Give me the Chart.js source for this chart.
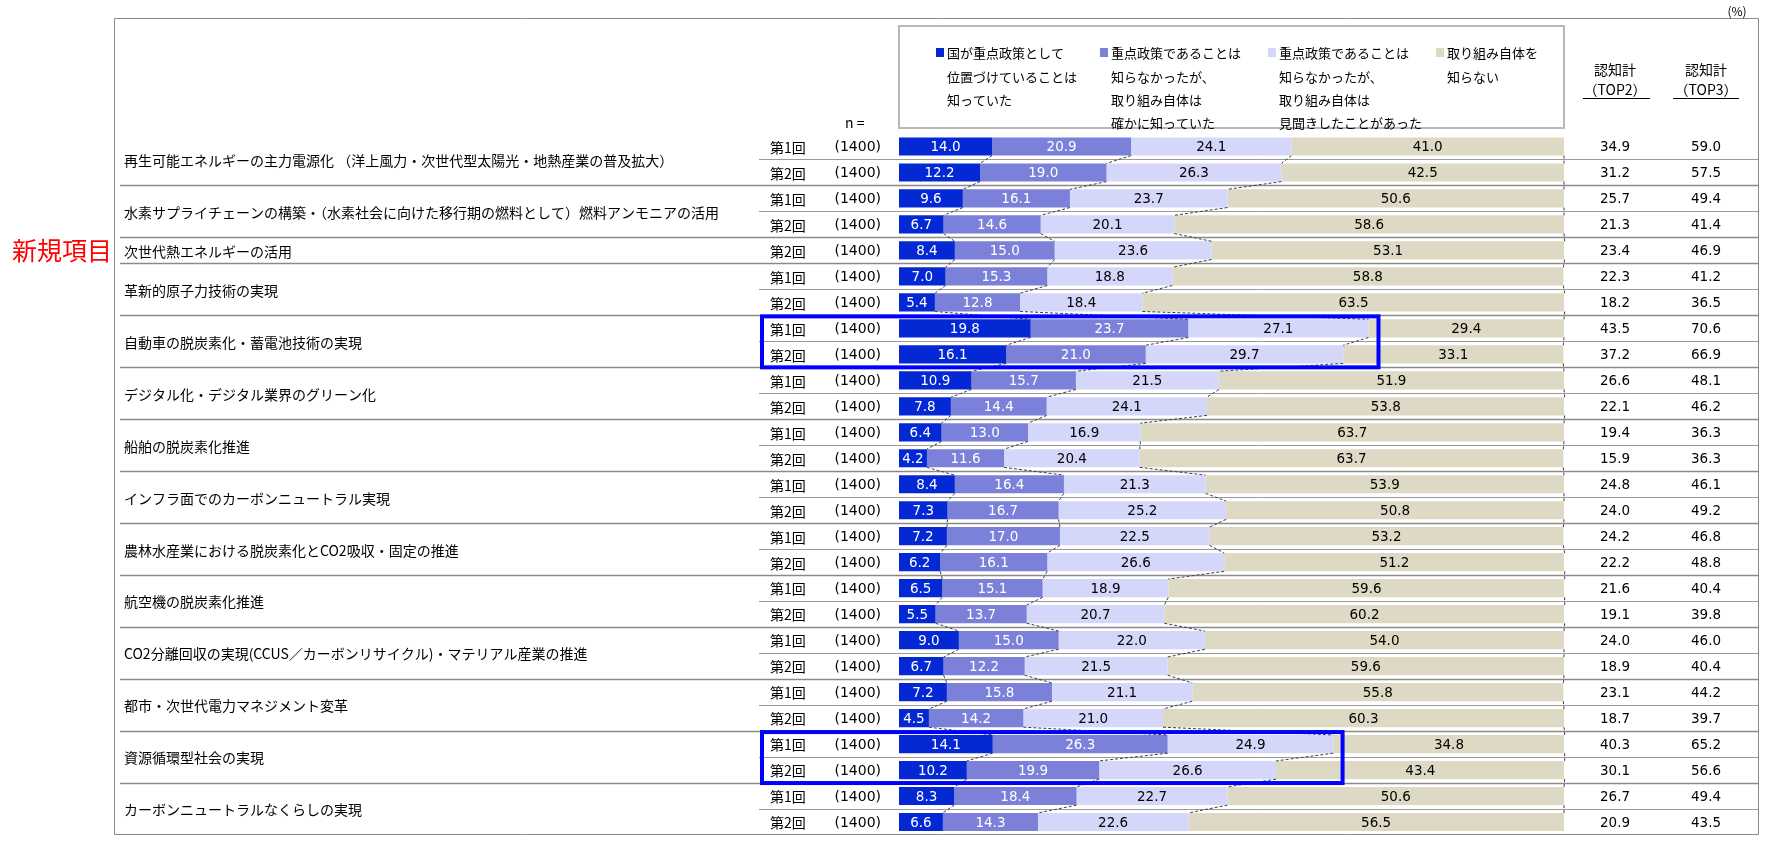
<!DOCTYPE html>
<html lang="ja">
<head>
<meta charset="utf-8">
<title>グリーン成長戦略 重点分野の認知度</title>
<script src="https://cdn.jsdelivr.net/npm/chart.js@4.4.1/dist/chart.umd.min.js"></script>
<style>
  html, body { margin: 0; padding: 0; background: #fff; }
  #chart { display: block; }
</style>
</head>
<body>
<canvas id="chart" width="1768" height="842"></canvas>
<script>
// 施策（グループ）名
const groups = [
    '再生可能エネルギーの主力電源化 （洋上風力・次世代型太陽光・地熱産業の普及拡大）',
    '水素サプライチェーンの構築・（水素社会に向けた移行期の燃料として）燃料アンモニアの活用',
    '次世代熱エネルギーの活用',
    '革新的原子力技術の実現',
    '自動車の脱炭素化・蓄電池技術の実現',
    'デジタル化・デジタル業界のグリーン化',
    '船舶の脱炭素化推進',
    'インフラ面でのカーボンニュートラル実現',
    '農林水産業における脱炭素化とCO2吸収・固定の推進',
    '航空機の脱炭素化推進',
    'CO2分離回収の実現(CCUS／カーボンリサイクル)・マテリアル産業の推進',
    '都市・次世代電力マネジメント変革',
    '資源循環型社会の実現',
    'カーボンニュートラルなくらしの実現'
];

// 各行がどのグループか / 調査回 / n
const rowGroup = [0, 0, 1, 1, 2, 3, 3, 4, 4, 5, 5, 6, 6, 7, 7, 8, 8, 9, 9, 10, 10, 11, 11, 12, 12, 13, 13];
const rowRound = ['第1回', '第2回', '第1回', '第2回', '第2回', '第1回', '第2回', '第1回', '第2回',
    '第1回', '第2回', '第1回', '第2回', '第1回', '第2回', '第1回', '第2回', '第1回', '第2回',
    '第1回', '第2回', '第1回', '第2回', '第1回', '第2回', '第1回', '第2回'];
const rowN = [1400, 1400, 1400, 1400, 1400, 1400, 1400, 1400, 1400, 1400, 1400, 1400, 1400, 1400,
    1400, 1400, 1400, 1400, 1400, 1400, 1400, 1400, 1400, 1400, 1400, 1400, 1400];

// 系列（%）
const knewPriority = [14.0, 12.2, 9.6, 6.7, 8.4, 7.0, 5.4, 19.8, 16.1, 10.9, 7.8, 6.4, 4.2, 8.4, 7.3,
    7.2, 6.2, 6.5, 5.5, 9.0, 6.7, 7.2, 4.5, 14.1, 10.2, 8.3, 6.6];
const knewInitiative = [20.9, 19.0, 16.1, 14.6, 15.0, 15.3, 12.8, 23.7, 21.0, 15.7, 14.4, 13.0, 11.6, 16.4, 16.7,
    17.0, 16.1, 15.1, 13.7, 15.0, 12.2, 15.8, 14.2, 26.3, 19.9, 18.4, 14.3];
const heardOf = [24.1, 26.3, 23.7, 20.1, 23.6, 18.8, 18.4, 27.1, 29.7, 21.5, 24.1, 16.9, 20.4, 21.3, 25.2,
    22.5, 26.6, 18.9, 20.7, 22.0, 21.5, 21.1, 21.0, 24.9, 26.6, 22.7, 22.6];
const unaware = [41.0, 42.5, 50.6, 58.6, 53.1, 58.8, 63.5, 29.4, 33.1, 51.9, 53.8, 63.7, 63.7, 53.9, 50.8,
    53.2, 51.2, 59.6, 60.2, 54.0, 59.6, 55.8, 60.3, 34.8, 43.4, 50.6, 56.5];

// 認知計
const top2 = [34.9, 31.2, 25.7, 21.3, 23.4, 22.3, 18.2, 43.5, 37.2, 26.6, 22.1, 19.4, 15.9, 24.8, 24.0,
    24.2, 22.2, 21.6, 19.1, 24.0, 18.9, 23.1, 18.7, 40.3, 30.1, 26.7, 20.9];
const top3 = [59.0, 57.5, 49.4, 41.4, 46.9, 41.2, 36.5, 70.6, 66.9, 48.1, 46.2, 36.3, 36.3, 46.1, 49.2,
    46.8, 48.8, 40.4, 39.8, 46.0, 40.4, 44.2, 39.7, 65.2, 56.6, 49.4, 43.5];

const seriesNames = [
    ['国が重点政策として', '位置づけていることは', '知っていた'],
    ['重点政策であることは', '知らなかったが、', '取り組み自体は', '確かに知っていた'],
    ['重点政策であることは', '知らなかったが、', '取り組み自体は', '見聞きしたことがあった'],
    ['取り組み自体を', '知らない']
];
const highlightGroups = [4, 12];
const newGroups = [2];

// 見た目
const colors = ['#0428d4', '#7b80d8', '#d5d7fa', '#ddd9c4'];
const labelColors = ['#ffffff', '#ffffff', '#000000', '#000000'];
const JP = '"Noto Sans CJK JP", sans-serif';
const NUM = '"DejaVu Sans", sans-serif';
const FRAME = { left: 114, top: 18, right: 1758, bottom: 834 };

function line(ctx, x1, y1, x2, y2) {
    ctx.beginPath();
    ctx.moveTo(x1, y1);
    ctx.lineTo(x2, y2);
    ctx.stroke();
}

const tablePlugin = {
    id: 'table',
    beforeDraw(chart) {
        const ctx = chart.ctx;
        ctx.save();
        ctx.fillStyle = '#ffffff';
        ctx.fillRect(0, 0, chart.width, chart.height);
        ctx.restore();
    },
    beforeDatasetsDraw(chart) {
        const ctx = chart.ctx;
        const y = chart.scales.y;
        ctx.save();
        // 行の区切り線
        for (let i = 1; i < rowRound.length; i++) {
            const yy = Math.round((y.getPixelForValue(i - 1) + y.getPixelForValue(i)) / 2) + 0.5;
            if (rowGroup[i] !== rowGroup[i - 1]) {
                ctx.strokeStyle = '#8a8a8a';
                ctx.lineWidth = 1.5;
                line(ctx, 120, yy, FRAME.right, yy);
            } else {
                ctx.strokeStyle = '#9a9a9a';
                ctx.lineWidth = 1;
                line(ctx, 759, yy, FRAME.right, yy);
            }
        }
        // 外枠
        ctx.strokeStyle = '#8a8a8a';
        ctx.lineWidth = 1;
        ctx.beginPath();
        ctx.moveTo(FRAME.left + 0.5, FRAME.bottom + 0.5);
        ctx.lineTo(FRAME.left + 0.5, FRAME.top + 0.5);
        ctx.lineTo(FRAME.right + 0.5, FRAME.top + 0.5);
        ctx.lineTo(FRAME.right + 0.5, FRAME.bottom + 0.5);
        ctx.lineTo(FRAME.left + 0.5, FRAME.bottom + 0.5);
        ctx.stroke();
        ctx.restore();
    },
    afterDatasetsDraw(chart) {
        const ctx = chart.ctx;
        const x = chart.scales.x;
        const y = chart.scales.y;
        const metas = [0, 1, 2, 3].map(d => chart.getDatasetMeta(d));
        ctx.save();

        // 破線の接続線
        ctx.strokeStyle = '#404040';
        ctx.lineWidth = 1;
        ctx.setLineDash([3, 2]);
        for (let i = 0; i < rowRound.length - 1; i++) {
            metas.forEach(meta => {
                const a = meta.data[i].getProps(['x', 'y', 'height'], true);
                const b = meta.data[i + 1].getProps(['x', 'y', 'height'], true);
                line(ctx, a.x, a.y + a.height / 2, b.x, b.y - b.height / 2);
            });
        }
        ctx.setLineDash([]);

        // 棒の数値
        ctx.textAlign = 'center';
        ctx.textBaseline = 'middle';
        ctx.font = '13.5px ' + NUM;
        metas.forEach((meta, d) => {
            ctx.fillStyle = labelColors[d];
            meta.data.forEach((el, i) => {
                const p = el.getProps(['x', 'y', 'base'], true);
                const v = chart.data.datasets[d].data[i];
                ctx.fillText(v.toFixed(1), (p.x + p.base) / 2, p.y + 1);
            });
        });

        // 行ラベル・n・認知計
        ctx.fillStyle = '#000000';
        rowRound.forEach((r, i) => {
            const yy = y.getPixelForValue(i) + 1;
            ctx.textAlign = 'left';
            ctx.font = '14px ' + JP;
            ctx.fillText(r, 770, yy);
            ctx.textAlign = 'right';
            ctx.font = '14px ' + NUM;
            ctx.fillText('(' + rowN[i] + ')', 881, yy);
            ctx.textAlign = 'center';
            ctx.font = '13.5px ' + NUM;
            ctx.fillText(top2[i].toFixed(1), 1615, yy);
            ctx.fillText(top3[i].toFixed(1), 1706, yy);
        });

        // グループ名
        ctx.textAlign = 'left';
        ctx.font = '14px ' + JP;
        groups.forEach((g, gi) => {
            const rows = rowGroup.map((v, i) => v === gi ? i : -1).filter(i => i >= 0);
            const yy = rows.reduce((s, i) => s + y.getPixelForValue(i), 0) / rows.length;
            ctx.fillStyle = '#000000';
            ctx.fillText(g, 124, yy + 1);
            if (newGroups.includes(gi)) {
                ctx.fillStyle = '#ff0000';
                ctx.font = '25px ' + JP;
                ctx.textAlign = 'right';
                ctx.fillText('新規項目', 112, yy);
                ctx.textAlign = 'left';
                ctx.font = '14px ' + JP;
            }
        });

        // 強調枠
        ctx.strokeStyle = '#0000ff';
        ctx.lineWidth = 4;
        highlightGroups.forEach(gi => {
            const rows = rowGroup.map((v, i) => v === gi ? i : -1).filter(i => i >= 0);
            const maxTop3 = Math.max(...rows.map(i => top3[i]));
            const top = y.getPixelForValue(rows[0]) - 12;
            const bottom = y.getPixelForValue(rows[rows.length - 1]) + 13;
            const right = x.getPixelForValue(maxTop3) + 10;
            ctx.strokeRect(762, top, right - 762, bottom - top);
        });

        // 凡例
        ctx.strokeStyle = '#b8b8b8';
        ctx.lineWidth = 2;
        ctx.strokeRect(899, 26, 1564 - 899, 128 - 26);
        const legendX = [936, 1100, 1268, 1436];
        const legendY = [52, 76, 99, 122];
        ctx.textAlign = 'left';
        ctx.font = '13px ' + JP;
        seriesNames.forEach((lines, d) => {
            ctx.fillStyle = colors[d];
            ctx.fillRect(legendX[d], legendY[0] - 4, 8, 9);
            ctx.fillStyle = '#000000';
            lines.forEach((t, k) => ctx.fillText(t, legendX[d] + 11, legendY[k] + 1));
        });

        // ヘッダー
        ctx.textAlign = 'center';
        ctx.font = '14px ' + JP;
        ctx.fillText('認知計', 1615, 70);
        ctx.fillText('認知計', 1706, 70);
        ctx.fillText('（TOP2）', 1615, 90);
        ctx.fillText('（TOP3）', 1706, 90);
        ctx.strokeStyle = '#000000';
        ctx.lineWidth = 1;
        line(ctx, 1583, 98.5, 1650, 98.5);
        line(ctx, 1673, 98.5, 1739, 98.5);
        ctx.textAlign = 'left';
        ctx.fillText('n =', 845, 123);
        ctx.font = '12px ' + JP;
        ctx.textAlign = 'center';
        ctx.fillText('(%)', 1737, 11);

        ctx.restore();
    }
};

const seriesData = [knewPriority, knewInitiative, heardOf, unaware];

new Chart(document.getElementById('chart'), {
    type: 'bar',
    data: {
        labels: rowRound,
        datasets: seriesData.map((data, d) => ({
            label: seriesNames[d].join(''),
            data: data,
            backgroundColor: colors[d],
            borderWidth: 0,
            barPercentage: 0.7,
            categoryPercentage: 1.0
        }))
    },
    options: {
        indexAxis: 'y',
        responsive: false,
        devicePixelRatio: 1,
        animation: false,
        layout: {
            padding: { left: 899, right: 204, top: 133.5, bottom: 7 }
        },
        plugins: {
            legend: { display: false },
            tooltip: { enabled: false }
        },
        scales: {
            x: { stacked: true, min: 0, max: 100, display: false },
            y: { stacked: true, display: false }
        }
    },
    plugins: [tablePlugin]
});
</script>
</body>
</html>
